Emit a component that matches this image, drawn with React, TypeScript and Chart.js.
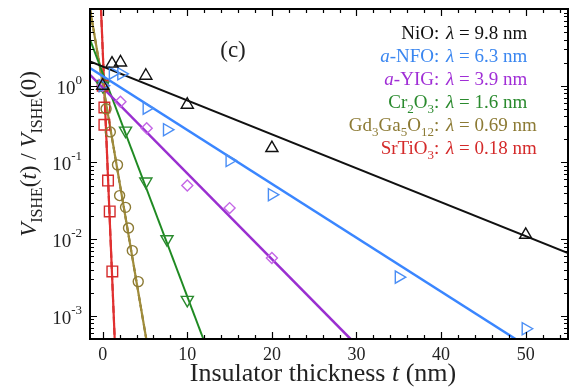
import React, { useEffect, useRef } from "react";
import { Chart, registerables } from "chart.js";

Chart.register(...registerables);

// ---- data ----
const nioT = [0, 1.1, 2.1, 5.1, 10, 20, 50];
const nioV = [1, 1.94, 2.01, 1.35, 0.565, 0.154, 0.0114];
const nfoT = [0, 1.2, 2.2, 5.2, 7.6, 15, 20, 35, 50];
const nfoV = [1, 1.46, 1.43, 0.51, 0.267, 0.106, 0.038, 0.0032, 0.00068];
const yigT = [0, 2.1, 5.2, 10, 15, 20];
const yigV = [1, 0.62, 0.28, 0.05, 0.0254, 0.0057];
const croT = [0, 2.7, 5.1, 7.6, 10];
const croV = [1, 0.26, 0.0565, 0.01, 0.00162];
const ggoT = [0, 0.4, 0.9, 1.75, 2.0, 2.7, 3.05, 3.5, 4.2];
const ggoV = [1, 0.5, 0.25, 0.093, 0.037, 0.026, 0.014, 0.0071, 0.0028];
const stoT = [0, 0.2, 0.2, 0.63, 0.83, 1.14];
const stoV = [1, 0.52, 0.31, 0.058, 0.023, 0.0038];

// fit lines (endpoints)
const nioFitT = [-1.5, 55];
const nioFitV = [2.07, 0.0066];
const nfoFitT = [-1.5, 48.8];
const nfoFitV = [1.7, 0.0005];
const yigFitT = [-1.5, 29.3];
const yigFitV = [1.39, 0.0005];
const croFitT = [-1.5, 11.9];
const croFitV = [4.0, 0.0005];
const ggoFitT = [-1.5, 5.15];
const ggoFitV = [10, 0.0005];
const stoFitT = [-0.2, 1.42];
const stoFitV = [10, 0.0005];

const lambdas = ["9.8", "6.3", "3.9", "1.6", "0.69", "0.18"];
const xTickValues = [0, 10, 20, 30, 40, 50];
const yTickExponents = [0, -1, -2, -3];
const X_MIN = -1.5;
const X_MAX = 55;
const Y_MIN = 0.0005;
const Y_MAX = 10;

const FONT = '"Liberation Serif", "Times New Roman", serif';

type Seg = { t: string; it?: boolean; sub?: boolean; sup?: boolean };

const legendNames: Seg[][] = [
  [{ t: "NiO: " }],
  [{ t: "a", it: true }, { t: "-NFO: " }],
  [{ t: "a", it: true }, { t: "-YIG: " }],
  [{ t: "Cr" }, { t: "2", sub: true }, { t: "O" }, { t: "3", sub: true }, { t: ": " }],
  [
    { t: "Gd" }, { t: "3", sub: true }, { t: "Ga" }, { t: "5", sub: true },
    { t: "O" }, { t: "12", sub: true }, { t: ": " },
  ],
  [{ t: "SrTiO" }, { t: "3", sub: true }, { t: ": " }],
];
const legendColors = ["#111111", "#3a86f0", "#a02ed6", "#2a8a2e", "#8c7a34", "#d42a2a"];

const pts = (xs: number[], ys: number[]) => xs.map((x, i) => ({ x, y: ys[i] }));

function segFont(s: Seg, size: number) {
  const sz = s.sub || s.sup ? Math.round(size * 0.68) : size;
  return `${s.it ? "italic " : ""}${sz}px ${FONT}`;
}
function segsWidth(ctx: CanvasRenderingContext2D, segs: Seg[], size: number) {
  let w = 0;
  for (const s of segs) {
    ctx.font = segFont(s, size);
    w += ctx.measureText(s.t).width;
  }
  return w;
}
function drawSegs(ctx: CanvasRenderingContext2D, segs: Seg[], x: number, y: number, size: number) {
  let cx = x;
  ctx.textAlign = "left";
  ctx.textBaseline = "alphabetic";
  for (const s of segs) {
    ctx.font = segFont(s, size);
    const dy = s.sub ? size * 0.28 : s.sup ? -size * 0.4 : 0;
    ctx.fillText(s.t, cx, y + dy);
    cx += ctx.measureText(s.t).width;
  }
  return cx;
}

const decorPlugin = {
  id: "decor",
  afterDraw(chart: any) {
    const ctx: CanvasRenderingContext2D = chart.ctx;
    const { left, right, top, bottom } = chart.chartArea;
    const xs = chart.scales.x;
    const ys = chart.scales.y;
    ctx.save();
    // frame
    ctx.strokeStyle = "#000";
    ctx.lineWidth = 2;
    ctx.strokeRect(left, top, right - left, bottom - top);
    // x ticks
    ctx.lineWidth = 1.2;
    ctx.beginPath();
    for (let v = 0; v <= X_MAX; v += 2) {
      const px = Math.round(xs.getPixelForValue(v)) + 0.5;
      const len = v % 10 === 0 ? 7 : 4;
      ctx.moveTo(px, bottom);
      ctx.lineTo(px, bottom - len);
      ctx.moveTo(px, top);
      ctx.lineTo(px, top + len);
    }
    // y ticks
    for (let d = -4; d <= 1; d++) {
      for (let m = 1; m <= 9; m++) {
        const v = m * Math.pow(10, d);
        if (v < Y_MIN * 0.999 || v > Y_MAX * 1.001) continue;
        const py = Math.round(ys.getPixelForValue(v)) + 0.5;
        const len = m === 1 ? 7 : 4;
        ctx.moveTo(left, py);
        ctx.lineTo(left + len, py);
        ctx.moveTo(right, py);
        ctx.lineTo(right - len, py);
      }
    }
    ctx.stroke();

    // x tick labels
    ctx.fillStyle = "#222";
    ctx.font = `18px ${FONT}`;
    ctx.textAlign = "center";
    ctx.textBaseline = "alphabetic";
    for (const v of xTickValues) {
      ctx.fillText(String(v), xs.getPixelForValue(v), 360);
    }
    // y tick labels
    for (const e of yTickExponents) {
      const py = ys.getPixelForValue(Math.pow(10, e));
      ctx.font = `19px ${FONT}`;
      const w10 = ctx.measureText("10").width;
      ctx.font = `13px ${FONT}`;
      const sup = String(e);
      const ws = ctx.measureText(sup).width;
      const x0 = 82 - w10 - ws;
      ctx.textAlign = "left";
      ctx.font = `19px ${FONT}`;
      ctx.fillText("10", x0, py + 8);
      ctx.font = `13px ${FONT}`;
      ctx.fillText(sup, x0 + w10, py - 2);
    }

    // x title
    const xt: Seg[] = [{ t: "Insulator thickness " }, { t: "t", it: true }, { t: " (nm)" }];
    const xw = segsWidth(ctx, xt, 26);
    drawSegs(ctx, xt, 323 - xw / 2, 381, 26);

    // y title
    const yt: Seg[] = [
      { t: "V", it: true }, { t: "ISHE", sub: true }, { t: "(" }, { t: "t", it: true },
      { t: ") / " }, { t: "V", it: true }, { t: "ISHE", sub: true }, { t: "(0)" },
    ];
    ctx.save();
    ctx.translate(36, 154);
    ctx.rotate(-Math.PI / 2);
    const yw = segsWidth(ctx, yt, 23);
    drawSegs(ctx, yt, -yw / 2, 0, 23);
    ctx.restore();

    // panel label
    ctx.font = `23px ${FONT}`;
    ctx.textAlign = "center";
    ctx.textBaseline = "middle";
    ctx.fillStyle = "#222";
    ctx.fillText("(c)", 233, 51);

    // legend
    const rowY0 = 39;
    const rowStep = 23;
    const size = 19;
    legendNames.forEach((segs, i) => {
      ctx.fillStyle = legendColors[i];
      const y = rowY0 + i * rowStep;
      const w = segsWidth(ctx, segs, size);
      drawSegs(ctx, segs, 444 - w, y, size);
      drawSegs(
        ctx,
        [{ t: "λ", it: true }, { t: " = " + lambdas[i] + " nm" }],
        446,
        y,
        size
      );
    });
    ctx.restore();
  },
};

export default function App() {
  const ref = useRef<HTMLCanvasElement | null>(null);
  useEffect(() => {
    if (!ref.current) return;
    const open = "rgba(0,0,0,0)";
    const fit = (data: any, color: string, width: number, dash: number[] = []) => ({
      data,
      showLine: true,
      borderColor: color,
      borderWidth: width,
      borderDash: dash,
      pointRadius: 0,
      backgroundColor: color,
      fill: false,
    });
    const mk = (data: any, color: string, style: string, radius: number, rotation = 0) => ({
      data,
      showLine: false,
      pointStyle: style,
      pointRadius: radius,
      pointRotation: rotation,
      pointBorderColor: color,
      pointBackgroundColor: open,
      pointBorderWidth: 1.4,
      borderColor: color,
      backgroundColor: open,
    });
    const chart = new Chart(ref.current, {
      type: "scatter",
      data: {
        datasets: [
          mk(pts(nioT, nioV), "#111111", "triangle", 7),
          mk(pts(nfoT, nfoV), "#4a8ef5", "triangle", 7, 90),
          mk(pts(yigT, yigV), "#c466e6", "rectRot", 5.5),
          mk(pts(croT, croV), "#2a8a2e", "triangle", 7, 180),
          mk(pts(ggoT, ggoV), "#8c7a34", "circle", 5),
          mk(pts(stoT, stoV), "#d42a2a", "rect", 7.5),
          fit(pts(nioFitT, nioFitV), "#111111", 2),
          fit(pts(nfoFitT, nfoFitV), "#3a86ff", 2.5),
          fit(pts(yigFitT, yigFitV), "#9a2fd0", 2.5),
          fit(pts(croFitT, croFitV), "#1f8a22", 2),
          fit(pts(ggoFitT, ggoFitV), "#a08c3a", 2.2),
          fit(pts(ggoFitT, ggoFitV), "#5a4818", 2, [6, 4]),
          fit(pts(stoFitT, stoFitV), "#e23030", 2.2),
          fit(pts(stoFitT, stoFitV), "#b01818", 2, [7, 4]),
        ] as any,
      },
      options: {
        animation: false,
        responsive: false,
        maintainAspectRatio: false,
        layout: { padding: { left: 90, right: 12, top: 9, bottom: 48 } },
        plugins: { legend: { display: false }, tooltip: { enabled: false }, title: { display: false } },
        scales: {
          x: { type: "linear", min: X_MIN, max: X_MAX, display: false },
          y: { type: "logarithmic", min: Y_MIN, max: Y_MAX, display: false },
        },
        elements: { line: { tension: 0 } },
      },
      plugins: [decorPlugin],
    });
    return () => chart.destroy();
  }, []);
  return (
    <div style={{ position: "absolute", left: 0, top: 0, width: 580, height: 387, background: "#fff" }}>
      <canvas ref={ref} width={580} height={387} style={{ width: 580, height: 387 }} />
    </div>
  );
}
